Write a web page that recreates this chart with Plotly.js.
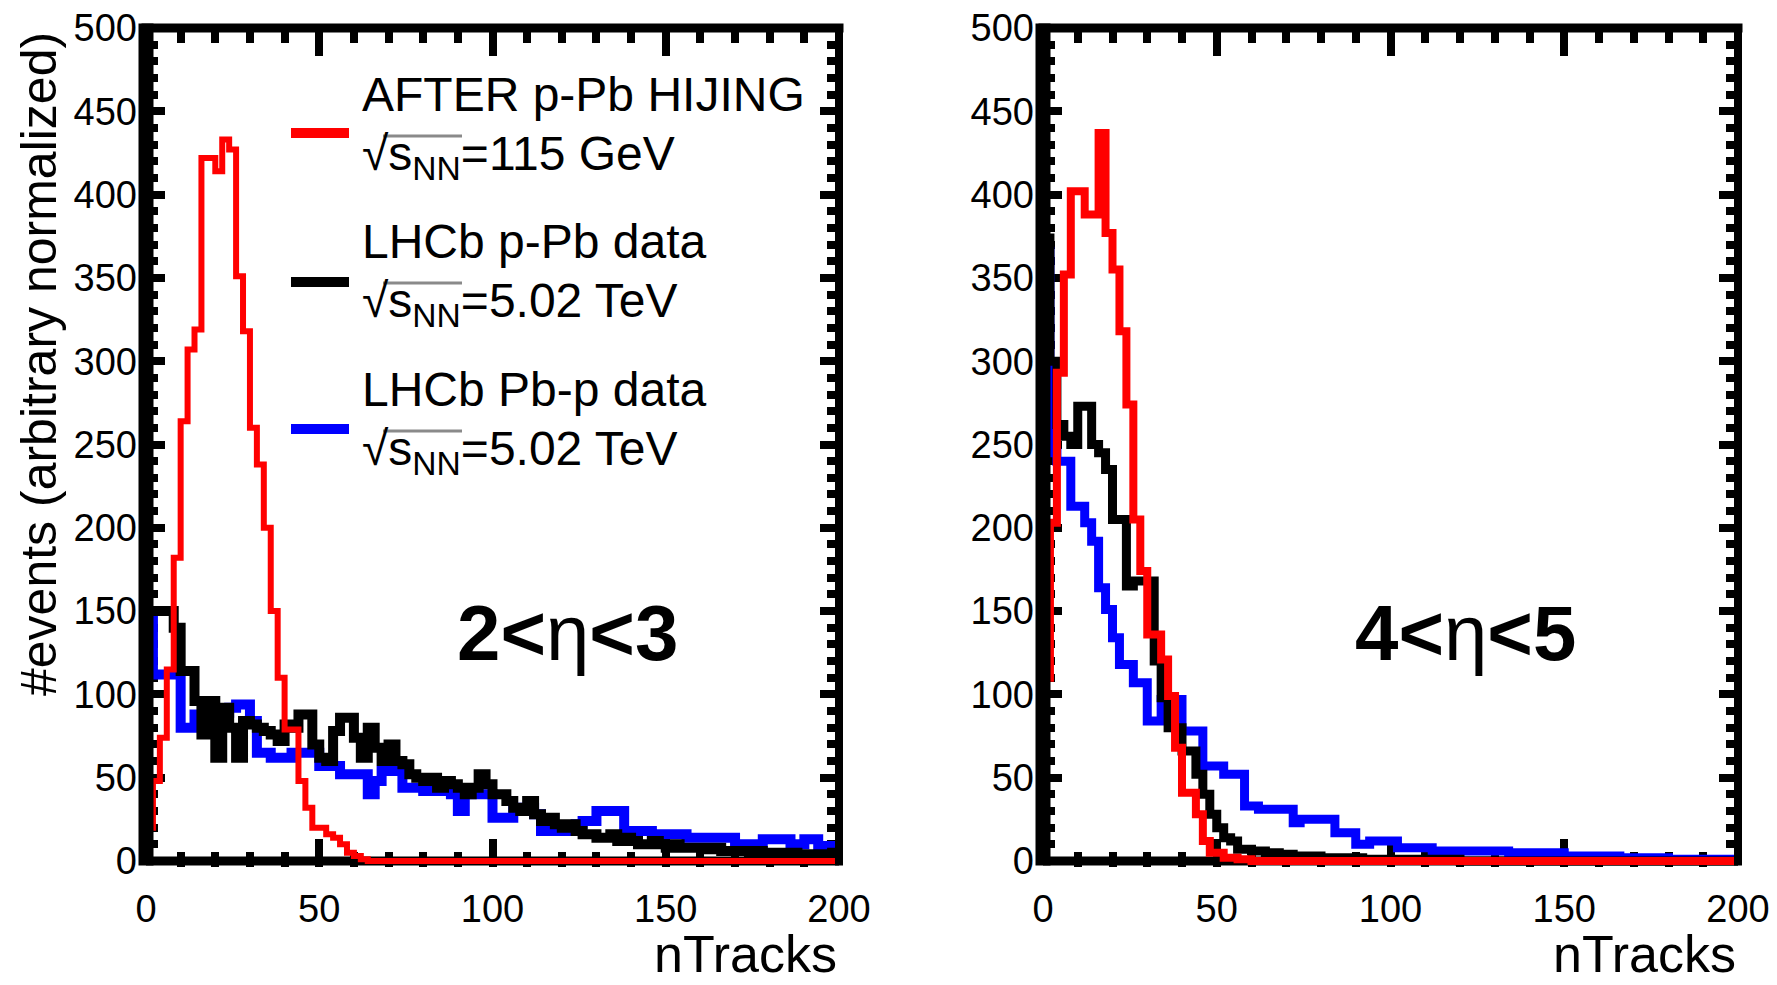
<!DOCTYPE html>
<html>
<head>
<meta charset="utf-8">
<script src="https://cdn.plot.ly/plotly-3.0.1.min.js"></script>
<style>
  html, body { margin: 0; padding: 0; background: #ffffff; }
  #plot { width: 1777px; height: 985px; }
</style>
</head>
<body>
<div id="plot"></div>
<script>
// nTracks histograms, 100 bins of width 2 from 0 to 200
const BIN_WIDTH = 2;

// ---- 2 < eta < 3 ----
const hijing_eta23 = [
  20, 48, 74, 115, 182, 264, 307, 319, 422, 422,
  414, 433, 427, 351, 318, 260, 238, 200, 150, 110,
  79, 79, 48, 32, 20, 20, 16, 14, 10, 5,
  3, 1, 0, 0, 0, 0, 0, 0, 0, 0,
  0, 0, 0, 0, 0, 0, 0, 0, 0, 0,
  0, 0, 0, 0, 0, 0, 0, 0, 0, 0,
  0, 0, 0, 0, 0, 0, 0, 0, 0, 0,
  0, 0, 0, 0, 0, 0, 0, 0, 0, 0,
  0, 0, 0, 0, 0, 0, 0, 0, 0, 0,
  0, 0, 0, 0, 0, 0, 0, 0, 0, 0
];
const lhcb_pPb_eta23 = [
  150, 150, 150, 150, 140, 114, 114, 96, 76, 96,
  62, 92, 80, 62, 84, 82, 80, 78, 76, 72,
  82, 80, 88, 88, 70, 62, 60, 78, 86, 86,
  74, 62, 80, 68, 60, 70, 60, 58, 52, 50,
  48, 50, 44, 48, 46, 44, 40, 44, 52, 46,
  40, 40, 36, 32, 30, 36, 28, 24, 26, 22,
  20, 22, 18, 16, 16, 14, 14, 16, 12, 14,
  12, 10, 10, 12, 10, 8, 10, 8, 8, 8,
  8, 7, 8, 6, 6, 6, 6, 5, 6, 5,
  5, 5, 4, 5, 4, 4, 4, 4, 4, 5
];
const lhcb_Pbp_eta23 = [
  146, 112, 112, 112, 112, 80, 80, 88, 88, 89,
  89, 89, 92, 94, 94, 84, 65, 65, 62, 62,
  62, 65, 65, 65, 65, 57, 57, 57, 52, 52,
  52, 52, 40, 48, 54, 54, 54, 44, 44, 44,
  42, 42, 42, 42, 40, 30, 40, 40, 40, 40,
  26, 26, 26, 32, 32, 32, 28, 18, 18, 18,
  18, 18, 22, 24, 24, 30, 30, 30, 30, 18,
  18, 18, 18, 16, 16, 16, 16, 16, 14, 14,
  14, 14, 14, 14, 14, 10, 10, 10, 10, 13,
  13, 13, 13, 10, 10, 13, 13, 9, 9, 9
];

// ---- 4 < eta < 5 ----
const hijing_eta45 = [
  110, 203, 293, 352, 402, 402, 388, 388, 437, 377,
  355, 318, 274, 205, 174, 136, 136, 121, 99, 68,
  41, 41, 28, 12, 5, 5, 2, 2, 1, 1,
  0, 0, 0, 0, 0, 0, 0, 0, 0, 0,
  0, 0, 0, 0, 0, 0, 0, 0, 0, 0,
  0, 0, 0, 0, 0, 0, 0, 0, 0, 0,
  0, 0, 0, 0, 0, 0, 0, 0, 0, 0,
  0, 0, 0, 0, 0, 0, 0, 0, 0, 0,
  0, 0, 0, 0, 0, 0, 0, 0, 0, 0,
  0, 0, 0, 0, 0, 0, 0, 0, 0, 0
];
const lhcb_pPb_eta45 = [
  374, 300, 262, 255, 250, 273, 273, 250, 245, 235,
  205, 205, 165, 168, 168, 168, 120, 98, 80, 80,
  66, 66, 52, 40, 28, 20, 14, 12, 7, 7,
  6, 6, 5, 5, 4, 4, 3, 3, 3, 3,
  2, 2, 2, 2, 2, 2, 1, 1, 1, 1,
  1, 1, 1, 1, 1, 1, 1, 1, 1, 1,
  0, 0, 0, 0, 0, 0, 0, 0, 0, 0,
  0, 0, 0, 0, 0, 0, 0, 0, 0, 0,
  0, 0, 0, 0, 0, 0, 0, 0, 0, 0,
  0, 0, 0, 0, 0, 0, 0, 0, 0, 0
];
const lhcb_Pbp_eta45 = [
  366, 245, 240, 240, 213, 213, 203, 192, 164, 151,
  134, 118, 118, 107, 107, 84, 84, 97, 97, 97,
  78, 78, 78, 57, 57, 57, 52, 52, 52, 33,
  33, 31, 31, 31, 31, 31, 23, 25, 25, 25,
  25, 25, 17, 17, 17, 10, 10, 12, 12, 12,
  12, 8, 8, 8, 8, 8, 6, 6, 6, 6,
  6, 6, 6, 6, 6, 6, 6, 5, 5, 5,
  5, 5, 5, 5, 5, 3, 3, 3, 3, 3,
  3, 3, 3, 2, 2, 2, 2, 2, 2, 2,
  1, 1, 1, 1, 1, 1, 1, 1, 1, 1
];

const seriesNames = ['AFTER p-Pb HIJING', 'LHCb p-Pb data', 'LHCb Pb-p data'];
const seriesEnergies = ['=115 GeV', '=5.02 TeV', '=5.02 TeV'];
const seriesColors = ['#ff0000', '#000000', '#0000ff'];
const xTicks = [0, 50, 100, 150, 200];
const yTicks = [0, 50, 100, 150, 200, 250, 300, 350, 400, 450, 500];

// Step outline of a histogram, starting from zero at the low edge
function histSteps(values) {
  const x = [0], y = [0];
  values.forEach((v, i) => { x.push(i * BIN_WIDTH); y.push(v); });
  x.push(values.length * BIN_WIDTH);
  y.push(values[values.length - 1]);
  return { x, y };
}

function histTrace(values, color, width, xa, ya, name) {
  const s = histSteps(values);
  return {
    type: 'scatter', mode: 'lines', name: name,
    x: s.x, y: s.y, xaxis: xa, yaxis: ya,
    line: { color: color, width: width, shape: 'hv' },
    hoverinfo: 'skip', showlegend: false
  };
}

const W = 1777, H = 985;
const FONT = 'Liberation Sans, Arial, Helvetica, sans-serif';

// Plot areas in pixels
const leftX = [146, 839], rightX = [1043, 1738];
const yTopPx = 28, yZeroPx = 861, yMin = -3.5, yMax = 500;
const pxPerUnit = (yZeroPx - yTopPx) / yMax;
const yBottomPx = yZeroPx + (-yMin) * pxPerUnit;
const yDomain = [1 - yBottomPx / H, 1 - yTopPx / H];

function px(xp) { return xp / W; }
function py(yp) { return 1 - yp / H; }

const traces = [
  histTrace(lhcb_Pbp_eta23, seriesColors[2], 10, 'x', 'y', seriesNames[2]),
  histTrace(lhcb_pPb_eta23, seriesColors[1], 10, 'x', 'y', seriesNames[1]),
  histTrace(hijing_eta23, seriesColors[0], 6, 'x', 'y', seriesNames[0]),
  histTrace(lhcb_Pbp_eta45, seriesColors[2], 9, 'x2', 'y2', seriesNames[2]),
  histTrace(lhcb_pPb_eta45, seriesColors[1], 9, 'x2', 'y2', seriesNames[1]),
  histTrace(hijing_eta45, seriesColors[0], 8, 'x2', 'y2', seriesNames[0])
];

function xAxis(domainPx, anchor) {
  return {
    domain: [px(domainPx[0]), px(domainPx[1])], anchor: anchor,
    range: [0, 200], tickvals: xTicks, ticktext: xTicks.map(String),
    ticks: 'inside', ticklen: 28, tickwidth: 8, tickcolor: '#000',
    minor: { dtick: 10, tick0: 0, ticks: 'inside', ticklen: 15, tickwidth: 8, tickcolor: '#000' },
    mirror: 'allticks', showline: false, showgrid: false, zeroline: false,
    layer: 'below traces', ticklabelstandoff: 16,
    tickfont: { family: FONT, size: 38, color: '#000' }, fixedrange: true
  };
}
function yAxis(anchor) {
  return {
    domain: yDomain, anchor: anchor,
    range: [yMin, yMax], tickvals: yTicks, ticktext: yTicks.map(String),
    ticks: 'inside', ticklen: 19, tickwidth: 8, tickcolor: '#000',
    minor: { dtick: 10, tick0: 0, ticks: 'inside', ticklen: 12, tickwidth: 8, tickcolor: '#000' },
    mirror: 'allticks', showline: false, showgrid: false, zeroline: false,
    layer: 'below traces', ticklabelstandoff: 8,
    tickfont: { family: FONT, size: 38, color: '#000' }, fixedrange: true
  };
}

// Frame around each panel: bottom edge under the histograms, the rest over them
function frameShapes(xp) {
  const x0 = px(xp[0]), x1 = px(xp[1]), y0 = py(yZeroPx), y1 = py(yTopPx);
  const ext = 4.5 / H;
  const edge = (ax0, ay0, ax1, ay1, w, layer) => ({
    type: 'line', xref: 'paper', yref: 'paper', x0: ax0, y0: ay0, x1: ax1, y1: ay1,
    line: { color: '#000', width: w }, layer: layer
  });
  return [
    edge(x0, y0, x1, y0, 9, 'below'),
    edge(x0 - 4.5 / W, y1, x1 + 4.5 / W, y1, 9, 'above'),
    edge(x1, y0 - ext, x1, y1, 8, 'above'),
    edge(x0, y0 - ext, x0, y1 + ext, 15, 'above')
  ];
}

// Legend: line samples and two-line labels
const legendRows = [
  { lineY: 133, base1: 114, base2: 173 },
  { lineY: 282, base1: 261, base2: 320 },
  { lineY: 429, base1: 409, base2: 468 }
];
const LEG_FONT = 48;
const legendShapes = [];
const legendAnnotations = [];
legendRows.forEach((row, i) => {
  legendShapes.push({
    type: 'line', xref: 'paper', yref: 'paper',
    x0: px(291), x1: px(349), y0: py(row.lineY), y1: py(row.lineY),
    line: { color: seriesColors[i], width: 10 }
  });
  legendAnnotations.push({
    xref: 'paper', yref: 'paper', x: px(360), y: py(row.base1 - LEG_FONT),
    xanchor: 'left', yanchor: 'top', showarrow: false, align: 'left',
    text: seriesNames[i],
    font: { family: FONT, size: LEG_FONT, color: '#000' }
  });
  legendAnnotations.push({
    xref: 'paper', yref: 'paper', x: px(360), y: py(row.base2 - LEG_FONT),
    xanchor: 'left', yanchor: 'top', showarrow: false, align: 'left',
    text: '√s<sub>NN</sub>' + seriesEnergies[i],
    font: { family: FONT, size: LEG_FONT, color: '#000' }
  });
  // bar over s_NN completing the root sign
  legendShapes.push({
    type: 'line', xref: 'paper', yref: 'paper',
    x0: px(383), x1: px(462), y0: py(row.base2 - 37), y1: py(row.base2 - 37),
    line: { color: '#8a8a8a', width: 3 }
  });
});

const annotations = legendAnnotations.concat([
  { xref: 'paper', yref: 'paper', x: px(39), y: py(30), xanchor: 'center', yanchor: 'top',
    textangle: -90, showarrow: false, text: '#events (arbitrary normalized)',
    font: { family: FONT, size: 50, color: '#000' } },
  { xref: 'paper', yref: 'paper', x: px(leftX[1]), y: py(985), xanchor: 'right', yanchor: 'bottom',
    showarrow: false, text: 'nTracks', font: { family: FONT, size: 52, color: '#000' } },
  { xref: 'paper', yref: 'paper', x: px(rightX[1]), y: py(985), xanchor: 'right', yanchor: 'bottom',
    showarrow: false, text: 'nTracks', font: { family: FONT, size: 52, color: '#000' } },
  { xref: 'x', yref: 'y', x: 121.5, y: 137, xanchor: 'center', yanchor: 'middle',
    showarrow: false, text: '<b>2&lt;</b>η<b>&lt;3</b>', font: { family: FONT, size: 78, color: '#000' } },
  { xref: 'x2', yref: 'y2', x: 121.5, y: 137, xanchor: 'center', yanchor: 'middle',
    showarrow: false, text: '<b>4&lt;</b>η<b>&lt;5</b>', font: { family: FONT, size: 78, color: '#000' } }
]);

const layout = {
  width: W, height: H,
  margin: { l: 0, r: 0, t: 0, b: 0, pad: 0 },
  paper_bgcolor: '#ffffff', plot_bgcolor: '#ffffff',
  showlegend: false, hovermode: false,
  xaxis: xAxis(leftX, 'y'),
  yaxis: yAxis('x'),
  xaxis2: xAxis(rightX, 'y2'),
  yaxis2: yAxis('x2'),
  shapes: frameShapes(leftX).concat(frameShapes(rightX), legendShapes),
  annotations: annotations
};

Plotly.newPlot('plot', traces, layout, { staticPlot: true, displayModeBar: false });
</script>
</body>
</html>
